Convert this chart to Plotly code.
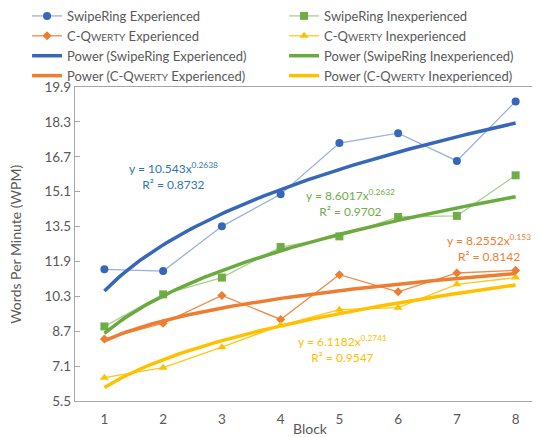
import numpy as np
import plotly.graph_objects as go

blocks = [1, 2, 3, 4, 5, 6, 7, 8]
swipering_exp = [11.54, 11.46, 13.51, 14.98, 17.33, 17.78, 16.51, 19.24]
swipering_inexp = [8.92, 10.39, 11.16, 12.56, 13.05, 13.94, 13.99, 15.85]
cqwerty_exp = [8.34, 9.07, 10.34, 9.24, 11.29, 10.51, 11.37, 11.49]
cqwerty_inexp = [6.57, 7.03, 7.97, 8.97, 9.69, 9.78, 10.85, 11.16]

# power trendline coefficients y = a * x^b, as printed on the chart
fit_a = [10.543, 8.6017, 8.2552, 6.1182]
fit_b = [0.2638, 0.2632, 0.153, 0.2741]
fit_r2 = ["0.8732", "0.9702", "0.8142", "0.9547"]
fit_a_txt = ["10.543", "8.6017", "8.2552", "6.1182"]
fit_b_txt = ["0.2638", "0.2632", "0.153", "0.2741"]

y_ticks = [5.5, 7.1, 8.7, 10.3, 11.9, 13.5, 15.1, 16.7, 18.3, 19.9]

SC = "<span style='font-size:10px'>WERTY</span>"
names = ["SwipeRing Experienced", "SwipeRing Inexperienced",
         "C-Q" + SC + " Experienced", "C-Q" + SC + " Inexperienced"]
series = [swipering_exp, swipering_inexp, cqwerty_exp, cqwerty_inexp]
marker_colors = ["#3767B8", "#70AD47", "#ED7D31", "#FFC000"]
line_colors = ["#9AB0DE", "#A9D18E", "#EF8A43", "#FFC61A"]
trend_colors = ["#3767B8", "#6AAA3E", "#ED7D31", "#FFC000"]
text_colors = ["#2E75B6", "#70AD47", "#ED7D31", "#FFC000"]
symbols = ["circle", "square", "diamond", "triangle-up"]
msizes = [8, 8, 7, 8]

fig = go.Figure()
for i in range(4):
    fig.add_trace(go.Scatter(
        x=blocks, y=series[i], mode="lines+markers", name=names[i],
        line=dict(color=line_colors[i], width=1.3),
        marker=dict(color=marker_colors[i], symbol=symbols[i], size=msizes[i]),
    ))

xs = np.linspace(1, 8, 120)
tnames = ["Power (SwipeRing Experienced)", "Power (SwipeRing Inexperienced)",
          "Power (C-Q" + SC + " Experienced)", "Power (C-Q" + SC + " Inexperienced)"]
for i in range(4):
    fig.add_trace(go.Scatter(
        x=xs, y=fit_a[i] * xs ** fit_b[i], mode="lines", name=tnames[i],
        line=dict(color=trend_colors[i], width=3.5),
    ))

ann_pos = [(2.18, 15.8, "center"), (5.19, 14.57, "center"),
           (8.29, 12.5, "right"), (5.05, 7.9, "center")]
for i in range(4):
    fig.add_annotation(
        x=ann_pos[i][0], y=ann_pos[i][1], xref="x", yref="y",
        xanchor=ann_pos[i][2],
        text=f"y = {fit_a_txt[i]}x<sup>{fit_b_txt[i]}</sup><br>R² = {fit_r2[i]}",
        showarrow=False, align="center",
        font=dict(color=text_colors[i], size=12),
    )

fig.add_annotation(text="Block", xref="x", yref="paper", x=4.5, y=-0.087,
                   showarrow=False, font=dict(size=14, color="#595959"),
                   xanchor="center", yanchor="middle")
fig.add_annotation(text="Words Per Minute (WPM)", xref="paper", yref="y",
                   x=-0.128, y=12.7, textangle=-90, showarrow=False,
                   font=dict(size=14, color="#595959"),
                   xanchor="center", yanchor="middle")

fig.update_layout(
    width=540, height=437,
    margin=dict(l=67, r=3, t=79, b=44, autoexpand=False),
    paper_bgcolor="white", plot_bgcolor="white",
    font=dict(family="Lato, Carlito, sans-serif", size=13, color="#595959"),
    showlegend=True,
    legend=dict(orientation="h", xref="paper", yref="paper",
                x=-0.102, y=1.274, xanchor="left", yanchor="top",
                entrywidth=212, entrywidthmode="pixels",
                font=dict(size=13, color="#595959"),
                itemwidth=30, tracegroupgap=0, bgcolor="rgba(0,0,0,0)"),
    xaxis=dict(range=[0.5, 8.5], tickvals=blocks, ticks="",
               showline=True, linecolor="#A6A6A6", linewidth=1.3, mirror=True,
               showgrid=False, zeroline=False, ticklabelstandoff=6,
               tickfont=dict(size=13.5, color="#595959")),
    yaxis=dict(range=[5.5, 19.9], tickvals=y_ticks,
               ticktext=[f"{v:.1f}" for v in y_ticks],
               ticks="inside", ticklen=5, tickcolor="#A6A6A6", tickwidth=1.3,
               showline=True, linecolor="#A6A6A6", linewidth=1.3,
               showgrid=False, zeroline=False,
               tickfont=dict(size=13.5, color="#595959")),
)

fig.write_html("out.html")
